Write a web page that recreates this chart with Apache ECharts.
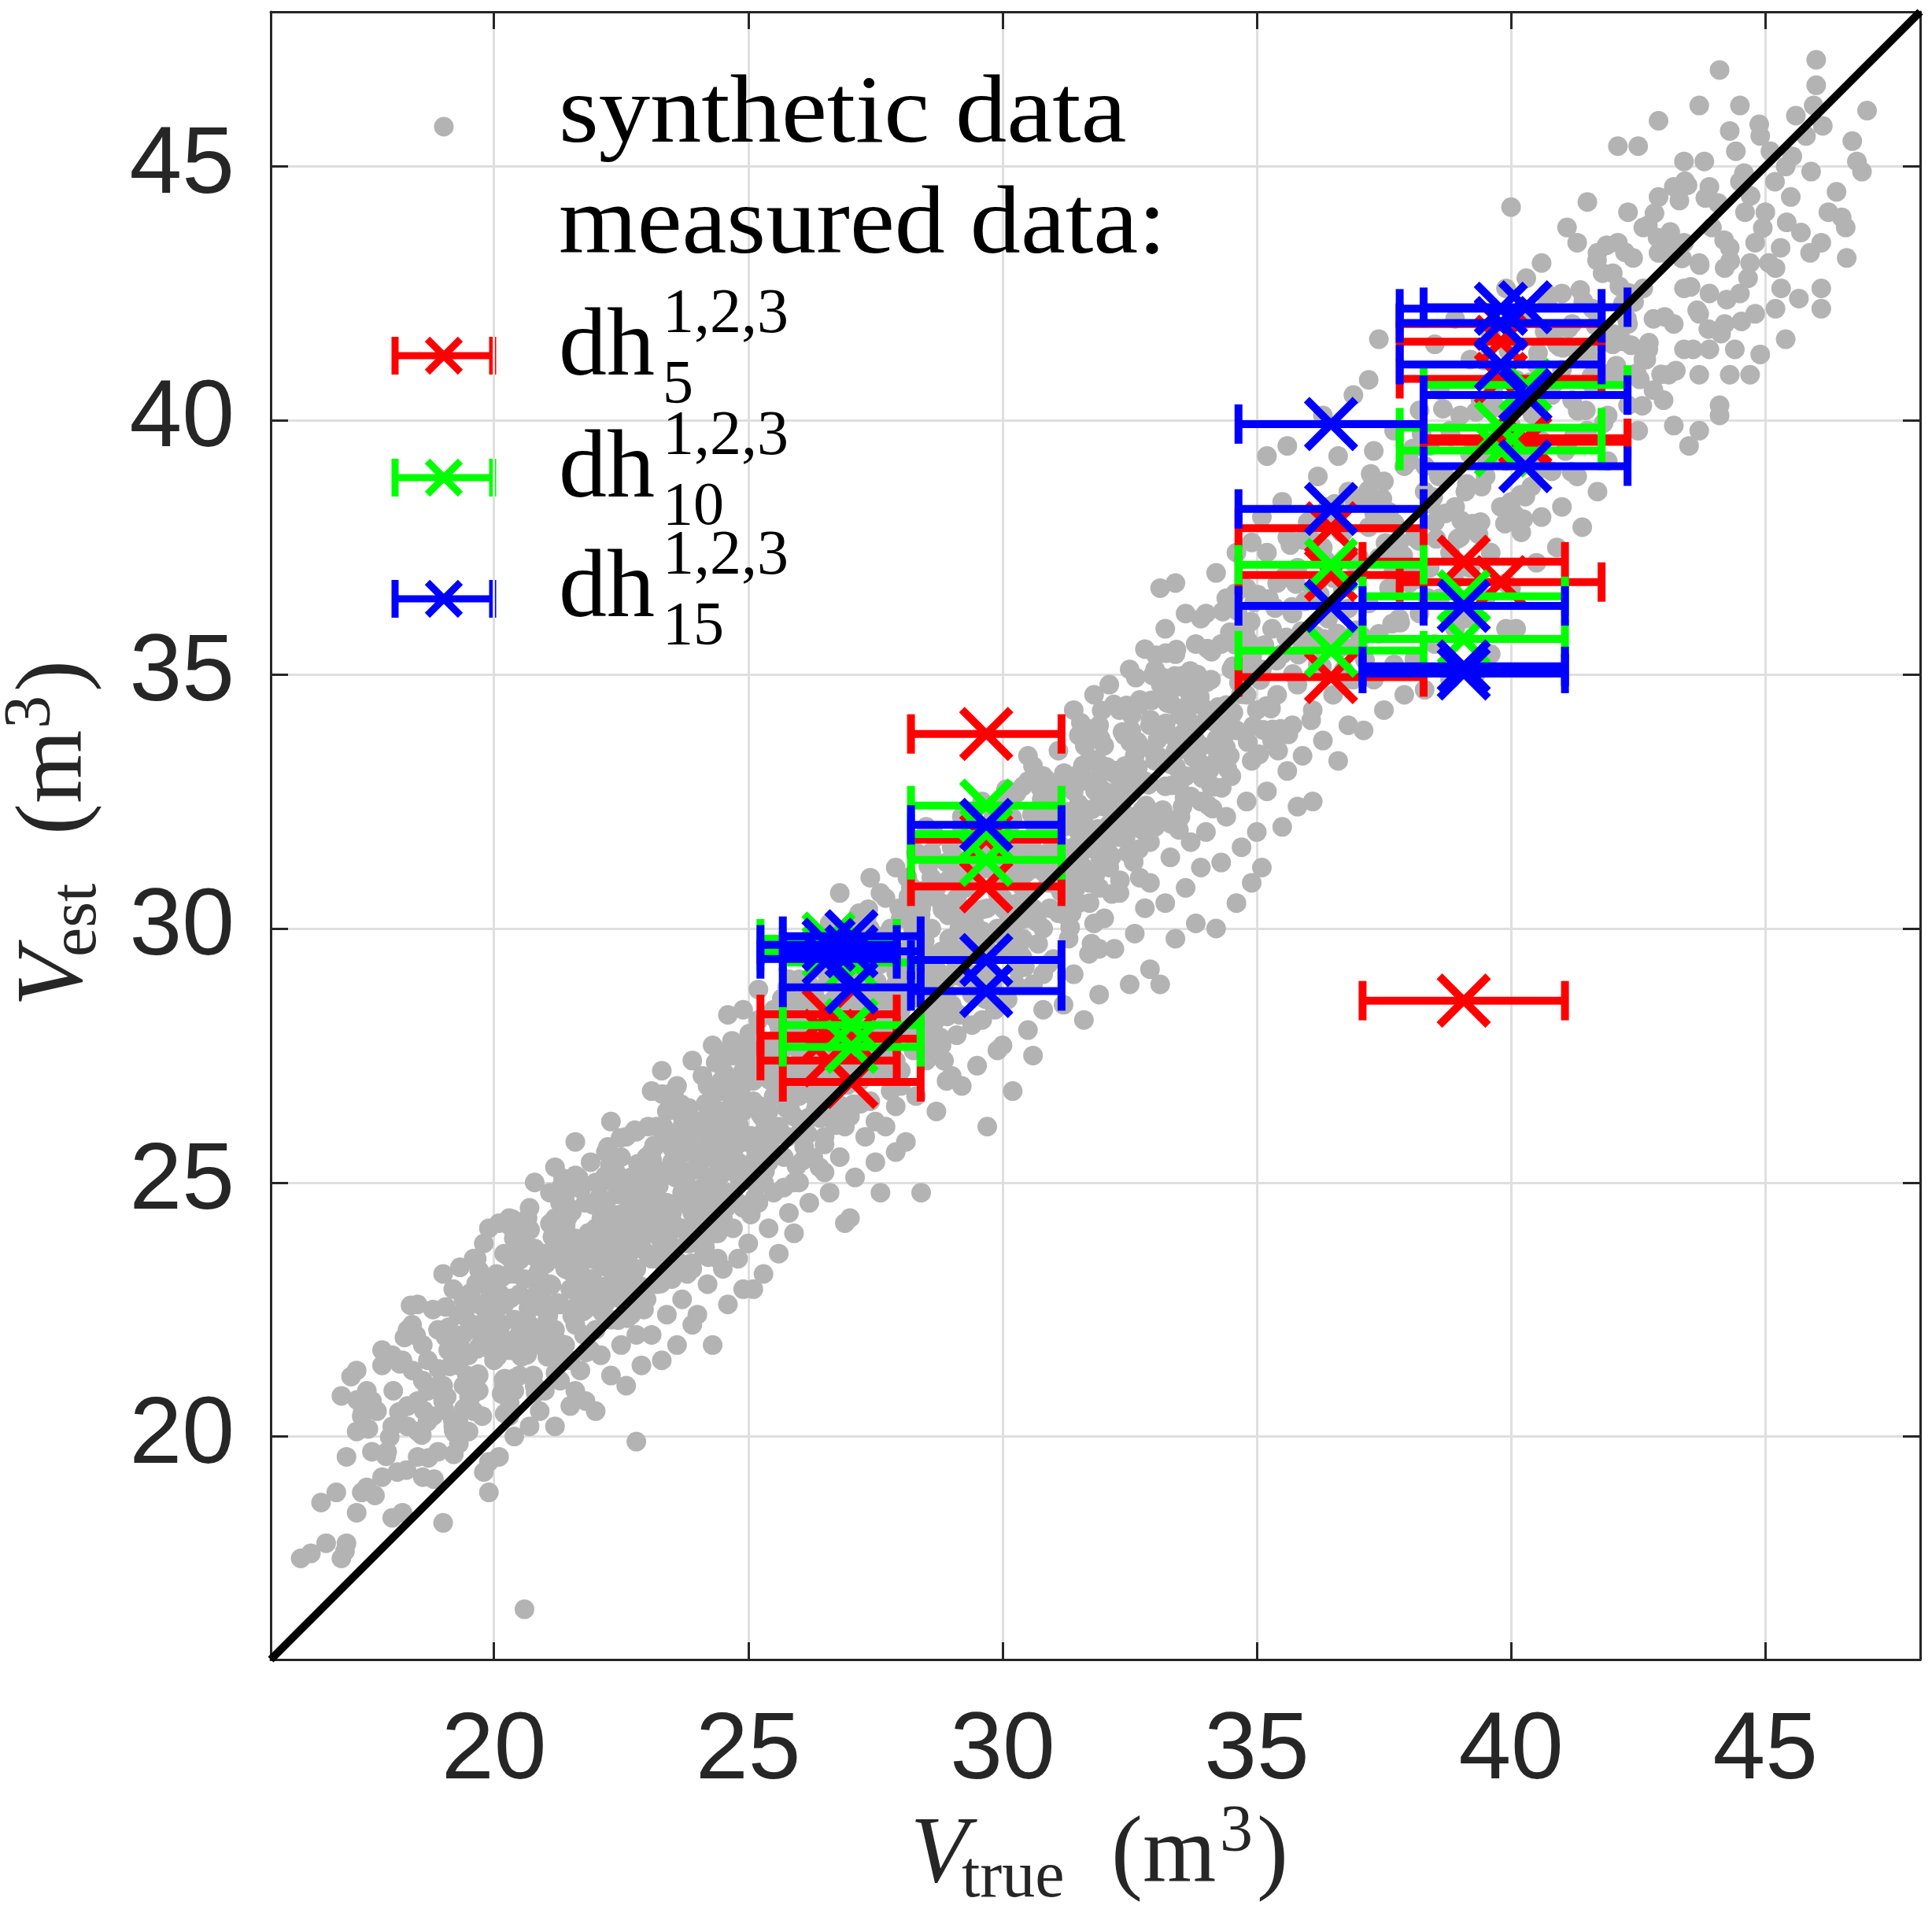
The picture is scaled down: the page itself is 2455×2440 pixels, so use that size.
<!DOCTYPE html>
<html>
<head>
<meta charset="utf-8">
<script src="https://cdn.jsdelivr.net/npm/echarts@6/dist/echarts.min.js"></script>
<style>
html,body{margin:0;padding:0;background:#ffffff;}
#chart{width:2455px;height:2440px;}
</style>
</head>
<body>
<div id="chart"></div>
<script>
// ---------- axis ----------
const axisMin = 15.61;
const axisMax = 48.045;
const tickValues = [20, 25, 30, 35, 40, 45];

// ---------- synthetic data (V_true, V_est) ----------
const syntheticOuter = [
[16.2,17.6],[16.4,17.7],[16.6,18.7],[16.7,17.9],[16.9,18.9],[17.0,20.8],
[17.0,17.6],[17.1,17.9],[17.3,18.5],[17.4,18.9],[17.5,19.0],[17.8,19.2],[17.1,19.6],[17.6,19.7],[17.9,19.7],[17.3,20.1],[17.4,20.4],[17.7,20.5],[17.5,20.9],[17.3,21.3],[17.8,21.4],[17.8,21.7],[17.6,20.7],
[18.0,21.6],[18.2,21.5],[18.0,20.2],[18.3,20.2],[18.5,20.1],[18.0,18.4],[18.2,18.5],[18.6,19.2],[18.9,19.7],[18.5,19.6],[18.3,20.6],[18.5,20.7],[18.8,20.4],[18.6,21.1],[18.4,21.3],[18.3,22.1],[18.6,21.8],[18.7,21.5],[18.5,22.6],[18.8,22.5],[18.9,22.1],[18.9,21.0],[18.7,20.9],[18.1,19.3],
[19.0,18.3],[19.2,20.2],[19.0,20.7],[19.0,21.0],[19.4,21.0],[19.3,20.3],[19.5,20.1],[19.6,20.5],[19.8,19.3],[19.9,19.5],[19.9,18.9],[19.7,20.9],[19.3,21.4],[19.2,21.9],[19.5,22.1],[19.7,22.6],[19.4,22.7],[19.0,23.2],[19.2,22.9],[19.8,23.1],[19.6,23.5],[19.8,23.8],[19.9,24.1],[19.5,21.6],[19.8,21.8],[19.3,22.4],[19.6,22.2],[19.9,22.9],[19.1,21.7],[19.7,21.2],
[20.6,16.6],[20.4,20.0],[20.1,19.6],[20.3,20.4],[20.7,20.2],[20.9,20.5],[20.2,21.0],[20.5,21.2],[20.8,21.0],[20.0,21.5],[20.3,21.7],[20.6,21.6],[20.9,21.8],[20.1,22.1],[20.4,22.3],[20.7,22.2],[20.2,22.6],[20.5,22.8],[20.8,22.6],[20.0,23.0],[20.3,23.2],[20.6,23.1],[20.9,23.3],[20.2,23.6],[20.5,23.8],[20.8,23.7],[20.1,24.2],[20.3,24.3],[20.7,24.5],[20.8,25.0],[20.4,20.9],[20.9,22.9],[20.6,24.0],[20.2,21.9],
[21.2,20.2],[21.5,20.6],[21.8,20.7],[21.0,20.9],[21.3,21.1],[21.7,21.3],[21.1,21.6],[21.4,21.8],[21.9,21.7],[21.2,22.1],[21.6,22.2],[21.0,22.5],[21.3,22.6],[21.8,22.5],[21.5,22.9],[21.1,23.0],[21.9,23.1],[21.4,23.3],[21.7,23.5],[21.0,23.6],[21.3,23.8],[21.6,23.9],[21.9,24.0],[21.2,24.3],[21.5,24.4],[21.8,24.6],[21.1,24.8],[21.4,25.0],[21.2,25.3],[21.6,25.8],[21.9,25.4],[21.7,24.9],[21.0,22.0],[21.5,21.5],[21.8,23.8],[21.3,24.6],[21.6,20.9],
[22.8,19.9],[22.0,20.5],[22.6,21.0],[22.3,21.2],[22.9,21.4],[22.1,21.6],[22.5,21.8],[22.8,22.0],[22.0,22.1],[22.3,22.3],[22.7,22.4],[22.2,22.7],[22.5,22.9],[22.9,22.8],[22.0,23.0],[22.4,23.2],[22.8,23.3],[22.1,23.5],[22.6,23.6],[22.3,23.9],[22.9,23.9],[22.0,24.1],[22.5,24.2],[22.8,24.5],[22.2,24.6],[22.6,24.8],[22.0,25.0],[22.4,25.2],[22.9,25.3],[22.2,25.6],[22.6,25.9],[22.3,26.2],[22.8,26.0],[22.7,23.0],[22.4,24.0],[22.1,22.9],[22.9,24.8],[22.5,25.5],
[23.3,21.5],[23.6,21.8],[23.1,22.0],[23.9,22.2],[23.4,22.4],[23.0,22.7],[23.7,22.7],[23.2,23.0],[23.5,23.1],[23.9,23.3],[23.1,23.5],[23.4,23.7],[23.8,23.8],[23.0,24.0],[23.6,24.1],[23.2,24.3],[23.9,24.4],[23.4,24.6],[23.7,24.8],[23.0,24.9],[23.3,25.1],[23.8,25.2],[23.5,25.4],[23.1,25.6],[23.9,25.7],[23.6,25.9],[23.2,26.1],[23.4,26.4],[23.8,26.4],[23.1,26.8],[23.6,26.9],[23.3,27.2],[23.9,27.4],[23.7,26.0],[23.5,24.4],[23.2,24.7],[23.8,23.2],[23.0,25.5],
[24.3,21.8],[24.0,22.4],[24.6,22.6],[24.9,22.9],[24.2,23.0],[24.5,23.3],[24.8,23.5],[24.1,23.8],[24.4,24.0],[24.7,24.1],[24.0,24.4],[24.3,24.6],[24.9,24.5],[24.6,24.8],[24.2,25.1],[24.5,25.2],[24.8,25.4],[24.0,25.5],[24.4,25.7],[24.7,25.9],[24.1,26.1],[24.6,26.2],[24.9,26.4],[24.3,26.5],[24.5,26.8],[24.8,27.0],[24.1,27.1],[24.4,27.4],[24.7,27.5],[24.3,27.7],[24.6,28.3],[24.9,28.4],[24.2,26.9],[24.5,24.3],[24.9,25.8],[24.1,24.9],[24.7,26.6],[24.4,23.5],
[25.1,22.9],[25.3,23.2],[25.6,23.6],[25.9,24.0],[25.0,23.8],[25.4,24.1],[25.8,24.4],[25.2,24.6],[25.5,24.8],[25.9,25.0],[25.1,25.2],[25.4,25.4],[25.7,25.5],[25.0,25.8],[25.3,26.0],[25.6,26.1],[25.9,26.3],[25.2,26.5],[25.5,26.7],[25.8,26.8],[25.1,27.0],[25.4,27.2],[25.7,27.3],[25.0,27.5],[25.3,27.7],[25.6,27.9],[25.9,28.0],[25.2,28.2],[25.5,28.4],[25.2,28.8],[25.8,28.6],[25.4,26.4],[25.7,24.9],[25.9,27.1],[25.5,25.9],[25.8,29.0],
[26.9,24.2],[26.2,24.6],[26.6,24.8],[26.0,25.0],[26.4,25.3],[26.8,25.5],[26.1,25.7],[26.5,25.9],[26.9,26.1],[26.3,26.3],[26.7,26.5],[26.0,26.7],[26.4,26.9],[26.8,27.0],[26.2,27.2],[26.6,27.4],[26.0,27.6],[26.4,27.8],[26.9,27.9],[26.1,28.1],[26.5,28.3],[26.8,28.5],[26.3,28.7],[26.7,28.9],[26.0,29.0],[26.4,29.3],[26.8,29.6],[26.2,29.8],[26.6,30.1],[26.8,30.7],[26.3,27.5],[26.7,26.8],[26.5,28.0],[26.1,26.2],[26.9,29.0],[26.5,25.2],
[27.0,24.3],[27.6,24.8],[27.1,25.1],[27.5,25.4],[27.9,25.6],[27.3,25.9],[27.7,26.1],[27.0,26.3],[27.4,26.6],[27.8,26.8],[27.2,27.0],[27.6,27.2],[27.9,27.4],[27.1,27.6],[27.5,27.8],[27.8,28.0],[27.3,28.2],[27.7,28.4],[27.0,28.6],[27.4,28.8],[27.9,28.9],[27.2,29.1],[27.6,29.3],[27.1,29.6],[27.5,29.8],[27.8,30.0],[27.3,30.3],[27.7,30.6],[27.4,31.0],[27.9,31.2],[27.6,28.1],[27.2,28.5],[27.8,29.5],[27.5,26.2],[27.0,27.3],[27.9,26.5],
[28.4,24.8],[28.1,25.8],[28.7,26.4],[28.3,26.7],[28.9,27.0],[28.0,27.2],[28.5,27.4],[28.8,27.7],[28.2,27.9],[28.6,28.1],[28.0,28.4],[28.4,28.6],[28.9,28.7],[28.3,28.9],[28.7,29.1],[28.1,29.3],[28.5,29.5],[28.9,29.6],[28.2,29.8],[28.6,30.0],[28.0,30.2],[28.4,30.4],[28.8,30.5],[28.2,30.8],[28.6,31.0],[28.9,31.3],[28.3,31.5],[28.7,31.8],[28.5,32.0],[28.1,28.0],[28.8,28.3],[28.4,29.9],[28.7,30.8],[28.0,26.9],
[29.7,26.1],[29.2,26.9],[29.5,27.3],[29.9,27.6],[29.1,27.9],[29.6,28.2],[29.0,28.5],[29.4,28.7],[29.8,28.9],[29.2,29.2],[29.7,29.4],[29.0,29.6],[29.5,29.8],[29.9,30.0],[29.3,30.2],[29.7,30.4],[29.1,30.6],[29.5,30.8],[29.9,31.0],[29.3,31.2],[29.7,31.4],[29.0,31.6],[29.4,31.8],[29.8,32.0],[29.2,32.2],[29.6,32.5],[29.5,29.1],[29.8,29.9],[29.2,30.4],[29.6,31.6],[29.0,27.1],[29.4,28.1],[29.9,30.7],[29.1,31.0],
[30.2,26.8],[30.0,27.7],[30.5,28.0],[30.8,28.4],[30.1,28.6],[30.6,28.9],[30.3,29.2],[30.9,29.3],[30.0,29.5],[30.4,29.8],[30.8,30.0],[30.2,30.2],[30.6,30.4],[30.0,30.6],[30.4,30.8],[30.9,30.9],[30.3,31.1],[30.7,31.3],[30.1,31.5],[30.5,31.7],[30.9,31.9],[30.2,32.1],[30.6,32.3],[30.0,32.5],[30.4,32.8],[30.8,33.0],[30.5,33.4],[30.7,29.7],[30.3,30.5],[30.9,31.5],[30.1,29.9],[30.6,27.5],[30.8,32.6],[30.4,31.4],
[31.6,28.2],[31.2,28.5],[31.9,28.7],[31.4,29.1],[31.0,29.4],[31.7,29.5],[31.3,29.8],[31.8,30.1],[31.1,30.3],[31.5,30.5],[31.9,30.8],[31.2,31.0],[31.6,31.2],[31.0,31.4],[31.4,31.6],[31.8,31.8],[31.2,32.0],[31.6,32.2],[31.0,32.4],[31.4,32.7],[31.9,32.8],[31.3,33.0],[31.7,33.3],[31.1,33.5],[31.5,33.8],[31.9,34.0],[31.4,34.3],[31.8,34.6],[31.7,30.9],[31.3,32.3],[31.9,29.6],[31.5,31.9],
[32.5,28.9],[32.9,29.2],[32.2,29.6],[32.6,29.9],[32.0,30.2],[32.8,30.4],[32.3,30.7],[32.7,31.0],[32.1,31.2],[32.5,31.5],[32.9,31.7],[32.2,32.0],[32.6,32.2],[32.0,32.4],[32.4,32.7],[32.8,32.9],[32.2,33.1],[32.6,33.4],[32.0,33.6],[32.4,33.8],[32.9,34.0],[32.3,34.3],[32.7,34.5],[32.1,34.8],[32.5,35.1],[32.8,35.5],[32.4,32.1],[32.7,33.6],[32.9,30.9],[32.3,31.8],
[33.1,28.9],[33.4,29.8],[33.8,30.1],[33.2,30.5],[33.6,30.8],[33.9,31.2],[33.3,31.4],[33.7,31.7],[33.0,32.0],[33.5,32.2],[33.9,32.5],[33.2,32.8],[33.6,33.0],[33.0,33.3],[33.4,33.5],[33.8,33.7],[33.1,33.9],[33.5,34.2],[33.9,34.4],[33.3,34.7],[33.7,34.9],[33.0,35.1],[33.4,35.4],[33.8,35.6],[33.2,35.9],[33.6,36.2],[33.1,36.7],[33.4,36.8],[33.9,36.1],[33.7,32.6],
[34.2,30.0],[34.6,30.5],[34.9,30.9],[34.3,31.3],[34.7,31.6],[34.0,31.9],[34.4,32.2],[34.8,32.5],[34.1,32.8],[34.5,33.0],[34.9,33.3],[34.2,33.6],[34.6,33.9],[34.0,34.1],[34.4,34.4],[34.8,34.6],[34.1,34.9],[34.5,35.1],[34.9,35.3],[34.3,35.6],[34.7,35.9],[34.0,36.2],[34.4,36.5],[34.8,36.7],[34.2,37.0],[34.6,37.4],[34.9,37.6],[34.5,34.0],
[35.1,31.2],[35.0,31.9],[35.5,32.0],[35.8,32.4],[35.2,32.7],[35.6,33.1],[35.9,33.4],[35.3,33.7],[35.7,34.0],[35.0,34.3],[35.4,34.6],[35.8,34.8],[35.1,35.1],[35.5,35.4],[35.9,35.6],[35.3,35.9],[35.7,36.2],[35.0,36.5],[35.4,36.8],[35.8,37.1],[35.2,37.4],[35.6,37.7],[35.1,38.1],[35.5,38.4],[35.2,39.3],[35.6,39.5],
[36.1,32.5],[36.6,33.3],[36.3,33.7],[36.8,34.0],[36.1,34.3],[36.5,34.6],[36.9,34.9],[36.2,35.2],[36.6,35.5],[36.0,35.8],[36.4,36.1],[36.8,36.3],[36.1,36.6],[36.5,36.9],[36.9,37.2],[36.3,37.5],[36.7,37.8],[36.0,38.0],[36.4,38.3],[36.8,38.6],[36.2,38.9],[36.6,39.3],[36.3,40.1],[36.9,40.5],
[37.1,33.9],[37.5,34.3],[37.9,34.6],[37.3,34.9],[37.7,35.2],[37.0,35.5],[37.4,35.8],[37.8,36.1],[37.2,36.4],[37.6,36.7],[37.0,37.0],[37.4,37.3],[37.8,37.6],[37.2,37.9],[37.6,38.2],[37.1,38.5],[37.5,38.8],[37.9,39.1],[37.3,39.4],[37.7,39.8],[37.2,40.8],[37.4,41.6],
[38.3,34.7],[38.8,34.9],[38.1,35.3],[38.5,35.6],[38.9,35.9],[38.2,36.2],[38.6,36.5],[38.0,36.8],[38.4,37.1],[38.8,37.4],[38.1,37.7],[38.5,38.0],[38.9,38.3],[38.3,38.6],[38.7,38.9],[38.0,39.2],[38.4,39.5],[38.8,39.8],[38.2,40.2],[38.6,40.6],[38.5,41.5],[38.9,42.0],
[39.3,35.0],[39.6,35.4],[39.9,35.9],[39.1,36.1],[39.5,36.5],[39.9,36.8],[39.2,37.1],[39.6,37.4],[39.0,37.7],[39.4,38.0],[39.8,38.3],[39.1,38.6],[39.5,38.9],[39.9,39.2],[39.3,39.5],[39.7,39.8],[39.0,40.1],[39.4,40.4],[39.8,40.8],[39.2,41.2],[39.6,41.7],[39.9,42.6],
[40.1,35.9],[40.0,36.7],[40.5,37.2],[40.9,37.5],[40.2,37.8],[40.6,38.1],[40.0,38.4],[40.4,38.7],[40.8,39.0],[40.2,39.3],[40.6,39.6],[40.0,39.9],[40.4,40.2],[40.8,40.5],[40.1,40.8],[40.5,41.1],[40.9,41.5],[40.3,42.0],[40.7,42.5],[40.3,42.8],[40.6,43.1],[40.0,44.2],
[41.4,37.9],[41.0,38.3],[41.7,38.6],[41.3,38.9],[41.9,39.2],[41.1,39.5],[41.5,39.8],[41.9,40.1],[41.2,40.4],[41.6,40.7],[41.0,41.0],[41.4,41.3],[41.8,41.6],[41.2,41.9],[41.6,42.2],[41.0,42.5],[41.8,42.9],[41.3,43.5],[41.7,43.3],[41.5,44.3],[41.1,43.8],
[42.5,39.8],[42.3,40.3],[42.8,40.6],[42.1,40.9],[42.6,41.2],[42.0,41.5],[42.3,41.9],[42.8,42.0],[42.2,42.3],[42.6,42.6],[42.0,42.9],[42.4,43.2],[42.9,43.3],[42.1,43.5],[42.6,43.8],[42.3,44.1],[42.9,44.4],[42.1,45.4],[42.5,45.4],[42.9,45.9],[42.7,41.4],
[43.5,39.5],[43.2,39.9],[43.7,39.8],[43.0,40.4],[43.7,40.9],[43.1,40.9],[43.4,41.4],[43.9,41.4],[43.2,41.9],[43.7,42.1],[43.4,42.6],[43.9,42.5],[43.0,43.3],[43.4,43.5],[43.7,43.1],[43.2,44.6],[43.8,45.1],[43.4,45.1],[43.7,46.2],[43.9,44.6],
[44.1,40.1],[44.1,40.3],[44.7,40.9],[44.3,40.9],[44.4,41.4],[44.9,41.3],[44.2,41.9],[44.8,42.1],[44.5,42.5],[44.2,43.0],[44.7,43.1],[44.3,43.4],[44.8,43.5],[44.6,44.1],[44.5,44.7],[44.3,45.7],[44.9,45.6],[44.1,46.9],[44.5,46.2],
[45.2,42.2],[45.4,41.6],[45.2,43.0],[45.3,43.4],[45.7,43.7],[45.0,44.1],[45.5,44.4],[45.9,44.9],[45.4,45.0],[45.8,45.6],[46.0,47.1],[46.0,46.6],[45.6,46.0],[45.1,45.3],
[46.1,42.6],[46.1,42.2],[46.5,44.0],[46.4,44.5],[46.1,43.5],[46.8,45.1],[47.0,46.1],[46.9,44.9],[46.6,43.2]
];
const syntheticCore = [
[17.07,17.74],[17.53,20.15],[17.31,20.72],[17.88,19.61],[17.19,21.18],[17.66,18.84],[17.42,20.50],[17.95,19.99],
[18.24,21.95],[18.71,19.58],[18.13,20.48],[18.58,20.03],[18.36,22.58],[18.82,19.16],[18.02,20.90],[18.47,21.99],[18.69,20.29],[18.28,19.34],[18.91,21.33],[18.15,21.43],[18.62,20.51],[18.39,22.20],
[19.77,20.40],[19.05,21.96],[19.54,20.77],[19.33,23.33],[19.86,22.41],[19.21,19.65],[19.68,21.73],[19.44,22.69],[19.07,20.78],[19.53,22.82],[19.31,19.86],[19.88,22.36],[19.19,20.32],[19.66,23.50],[19.42,22.40],[19.95,21.89],[19.24,20.06],[19.71,23.27],[19.13,21.38],[19.58,20.93],
[20.36,24.28],[20.82,20.86],[20.02,22.60],[20.47,23.69],[20.69,21.99],[20.28,21.04],[20.91,23.03],[20.15,23.13],[20.62,22.21],[20.39,23.90],[20.77,21.20],[20.05,22.76],[20.54,21.57],[20.33,24.13],[20.86,23.21],[20.21,20.45],[20.68,22.53],[20.44,23.49],[20.07,21.58],[20.53,23.62],[20.31,20.66],[20.88,23.16],[20.19,21.12],[20.66,24.30],[20.42,23.20],[20.95,22.69],[20.24,20.86],[20.71,24.07],[20.13,22.18],[20.58,21.73],
[21.36,25.08],[21.82,21.66],[21.02,23.40],[21.47,24.49],[21.69,22.79],[21.28,21.84],[21.91,23.83],[21.15,23.93],[21.62,23.01],[21.39,24.70],[21.77,22.00],[21.05,23.56],[21.54,22.37],[21.33,24.93],[21.86,24.01],[21.21,21.25],[21.68,23.33],[21.44,24.29],[21.07,22.38],[21.53,24.42],[21.31,21.46],[21.88,23.96],[21.19,21.92],[21.66,25.10],[21.42,24.00],[21.95,23.49],[21.24,21.66],[21.71,24.87],[21.13,22.98],[21.58,22.53],[21.36,23.42],[21.80,23.02],[21.10,24.19],[21.50,23.25],[21.25,22.63],[21.95,24.56],[21.60,25.14],[21.05,21.65],
[22.07,24.71],[22.53,23.26],[22.31,24.05],[22.88,22.96],[22.19,25.13],[22.66,24.13],[22.42,24.77],[22.95,22.50],[22.24,25.70],[22.71,23.66],[22.13,22.45],[22.58,24.75],[22.36,25.13],[22.82,24.13],[22.02,22.63],[22.47,24.37],[22.69,22.67],[22.28,25.34],[22.91,23.71],[22.15,24.66],[22.62,22.33],[22.39,23.51],[22.77,26.03],[22.05,23.73],[22.54,23.00],[22.33,25.52],[22.86,24.00],[22.21,22.65],[22.68,24.69],[22.44,22.29],[22.12,23.35],[22.97,25.02],[22.60,23.95],[22.27,24.32],[22.83,22.85],[22.49,25.88],[22.74,24.40],[22.08,24.10],[22.40,23.05],[22.93,24.28],
[23.07,24.62],[23.53,24.19],[23.31,26.74],[23.88,23.41],[23.19,25.25],[23.66,26.36],[23.42,24.25],[23.95,24.15],[23.24,24.93],[23.71,26.13],[23.13,24.27],[23.58,26.57],[23.36,23.33],[23.82,25.95],[23.02,23.60],[23.47,26.75],[23.69,25.56],[23.28,23.01],[23.91,25.24],[23.15,25.73],[23.62,23.44],[23.39,25.22],[23.77,26.33],[23.05,24.07],[23.54,26.70],[23.33,23.75],[23.86,26.09],[23.21,24.52],[23.68,26.54],[23.44,23.54],[23.11,25.45],[23.92,24.71],[23.50,25.68],[23.26,23.90],[23.79,24.95],[23.03,26.10],[23.63,24.58],[23.37,25.90],[23.85,23.80],[23.57,25.10],
[24.07,24.09],[24.53,26.41],[24.31,26.79],[24.88,25.88],[24.19,24.48],[24.66,26.24],[24.42,24.13],[24.95,27.65],[24.24,24.81],[24.71,26.86],[24.13,23.59],[24.58,25.38],[24.36,27.36],[24.82,26.12],[24.02,24.23],[24.47,27.34],[24.69,25.55],[24.28,24.41],[24.91,26.60],[24.15,23.73],[24.62,26.91],[24.39,24.83],[24.77,26.16],[24.05,23.92],[24.54,27.15],[24.33,25.54],[24.86,26.86],[24.21,23.53],[24.68,27.79],[24.44,25.12],[24.10,25.70],[24.97,25.05],[24.50,26.00],[24.26,26.25],[24.80,24.60],[24.60,27.60],[24.34,24.00],[24.90,27.20],[24.16,26.55],[24.73,25.25],
[25.07,25.91],[25.53,28.23],[25.31,24.99],[25.88,27.70],[25.19,25.45],[25.66,28.62],[25.42,27.02],[25.95,25.32],[25.24,26.34],[25.71,27.93],[25.13,24.70],[25.58,27.09],[25.36,27.66],[25.82,26.46],[25.02,27.93],[25.47,25.57],[25.69,27.64],[25.28,26.28],[25.91,28.45],[25.15,24.98],[25.62,26.82],[25.39,25.76],[25.77,28.85],[25.05,24.37],[25.54,27.27],[25.33,27.77],[25.86,26.34],[25.21,25.18],[25.68,27.02],[25.44,27.59],[25.10,26.60],[25.96,27.25],[25.48,26.10],[25.25,27.30],[25.78,25.90],[25.60,28.10],[25.35,25.35],[25.85,28.00],[25.17,27.85],[25.73,26.70],
[26.07,25.43],[26.53,27.24],[26.31,29.22],[26.88,28.07],[26.19,26.28],[26.66,29.41],[26.42,27.21],[26.95,26.92],[26.24,27.90],[26.71,26.13],[26.13,28.37],[26.58,26.90],[26.36,27.69],[26.82,26.51],[26.02,28.58],[26.47,27.56],[26.69,28.61],[26.28,25.49],[26.91,29.90],[26.15,26.76],[26.62,26.49],[26.39,28.18],[26.77,29.10],[26.05,27.04],[26.54,26.70],[26.33,27.85],[26.86,26.42],[26.21,28.88],[26.68,27.10],[26.44,28.52],[26.10,27.55],[26.93,28.40],[26.50,25.75],[26.26,28.10],[26.79,27.60],[26.60,29.75],[26.35,26.55],[26.88,29.20],[26.17,25.95],[26.72,27.85],
[27.07,26.54],[27.53,28.95],[27.31,29.52],[27.88,28.41],[27.19,29.98],[27.66,27.64],[27.42,29.30],[27.95,28.79],[27.24,29.75],[27.71,27.38],[27.13,28.28],[27.58,27.83],[27.36,30.38],[27.82,26.96],[27.02,28.70],[27.47,29.79],[27.69,28.09],[27.28,27.14],[27.91,29.13],[27.15,29.23],[27.62,28.31],[27.39,30.00],[27.77,27.30],[27.05,28.86],[27.54,27.67],[27.33,30.23],[27.86,29.31],[27.21,26.55],[27.68,28.63],[27.44,29.59],[27.10,27.95],[27.97,30.40],[27.49,28.45],[27.26,29.00],[27.80,28.00],[27.60,30.70],[27.35,27.55],[27.90,27.10],[27.18,30.30],[27.73,29.85],
[28.07,29.54],[28.53,27.77],[28.31,30.33],[28.88,28.97],[28.19,29.34],[28.66,28.16],[28.42,30.74],[28.95,29.80],[28.24,30.01],[28.71,27.68],[28.13,31.00],[28.58,28.94],[28.36,28.05],[28.82,30.37],[28.02,30.23],[28.47,29.21],[28.69,28.63],[28.28,29.60],[28.91,28.27],[28.15,30.63],[28.62,28.85],[28.39,30.27],[28.77,27.86],[28.05,28.61],[28.54,31.23],[28.33,29.38],[28.86,28.68],[28.21,30.81],[28.68,29.24],[28.44,28.26],[28.10,28.85],[28.93,30.95],[28.50,30.00],[28.25,27.60],[28.80,29.55],[28.60,31.50],[28.38,29.90],[28.85,27.40],
[29.07,31.39],[29.53,29.02],[29.31,30.24],[29.88,29.90],[29.19,32.03],[29.66,28.61],[29.42,30.86],[29.95,32.03],[29.24,29.49],[29.71,29.33],[29.13,30.23],[29.58,31.41],[29.36,29.87],[29.82,32.19],[29.02,28.43],[29.47,31.03],[29.69,29.60],[29.28,31.98],[29.91,31.16],[29.15,28.30],[29.62,30.38],[29.39,31.34],[29.77,28.97],[29.05,30.32],[29.54,31.53],[29.33,29.72],[29.86,32.38],[29.21,29.04],[29.68,31.33],[29.44,30.13],[29.10,29.30],[29.93,30.60],[29.50,28.80],[29.26,30.80],[29.80,31.80],[29.60,29.95],[29.35,31.70],[29.85,28.40],
[30.07,32.74],[30.53,30.70],[30.31,29.81],[30.88,32.22],[30.19,32.18],[30.66,31.18],[30.42,30.19],[30.95,32.01],[30.24,29.47],[30.71,32.93],[30.13,30.21],[30.58,32.24],[30.36,29.29],[30.82,31.10],[30.02,32.56],[30.47,31.30],[30.69,30.33],[30.28,32.67],[30.91,31.25],[30.15,29.80],[30.62,31.84],[30.39,29.44],[30.77,32.54],[30.05,30.03],[30.54,31.46],[30.33,29.67],[30.86,32.93],[30.21,30.93],[30.68,32.20],[30.44,29.24],[30.10,31.60],[30.93,30.40],[30.50,32.90],[30.26,28.90],[30.80,29.10],[30.60,33.20],
[31.07,31.87],[31.53,33.07],[31.31,31.53],[31.88,33.94],[31.19,30.28],[31.66,32.90],[31.42,31.06],[31.95,34.29],[31.24,32.26],[31.71,30.50],[31.13,31.64],[31.58,33.21],[31.36,30.30],[31.82,32.71],[31.02,32.76],[31.47,31.54],[31.69,33.93],[31.28,30.80],[31.91,33.24],[31.15,31.57],[31.62,33.59],[31.39,30.59],[31.77,32.35],[31.05,30.86],[31.54,34.05],[31.33,30.02],[31.86,32.95],[31.21,33.06],[31.68,31.58],[31.44,30.79],[31.10,32.20],[31.92,31.40],[31.50,32.45],[31.75,29.70],
[32.07,31.85],[32.53,33.90],[32.31,30.95],[32.88,32.85],[32.19,34.41],[32.66,33.17],[32.42,31.79],[32.95,34.98],[32.24,32.35],[32.71,32.00],[32.13,33.10],[32.58,31.31],[32.36,33.87],[32.82,32.42],[32.02,32.69],[32.47,31.49],[32.69,34.48],[32.28,32.69],[32.91,34.11],[32.15,30.68],[32.62,34.94],[32.39,32.27],[32.77,31.92],[32.05,33.18],[32.54,34.20],[32.33,32.59],[32.86,32.28],[32.21,33.04],[32.68,31.56],[32.44,34.39],[32.10,32.05],[32.95,33.50],
[33.07,33.38],[33.53,34.97],[33.31,32.06],[33.88,34.56],[33.19,34.71],[33.66,33.51],[33.42,35.49],[33.95,33.21],[33.24,34.44],[33.71,33.87],[33.13,34.95],[33.58,32.56],[33.36,33.78],[33.82,33.35],[33.02,35.38],[33.47,31.94],[33.69,34.60],[33.28,34.92],[33.91,33.59],[33.15,32.33],[33.62,34.17],[33.39,34.74],[33.77,33.74],[33.05,35.00],[33.54,32.40],[33.33,34.41],[33.86,33.25],[33.21,35.42],[33.68,34.45],[33.44,32.06],
[34.07,33.12],[34.53,35.16],[34.31,32.77],[34.88,36.04],[34.19,33.55],[34.66,34.96],[34.42,33.15],[34.95,36.42],[34.24,34.36],[34.71,35.63],[34.13,32.36],[34.58,36.60],[34.36,33.94],[34.82,33.67],[34.02,34.85],[34.47,35.83],[34.69,34.61],[34.28,33.46],[34.91,35.37],[34.15,32.79],[34.62,36.25],[34.39,33.84],[34.77,35.81],[34.05,32.42],[34.54,34.25],[34.33,36.24],[34.86,35.05],[34.21,33.30],
[35.07,34.89],[35.53,36.91],[35.31,33.92],[35.88,35.85],[35.19,34.38],[35.66,37.55],[35.42,33.50],[35.95,36.44],[35.24,36.49],[35.71,35.01],[35.13,33.91],[35.58,35.73],[35.36,36.31],[35.82,35.39],[35.02,36.57],[35.47,33.93],[35.69,36.33],[35.28,34.33],[35.91,37.65],[35.15,35.58],[35.62,33.82],[35.39,35.27],[35.77,36.78],[35.05,33.43],
[36.07,34.10],[36.53,38.36],[36.31,35.70],[36.88,35.52],[36.19,36.80],[36.66,37.80],[36.42,36.17],[36.95,35.87],[36.24,36.57],[36.71,35.09],[36.13,37.61],[36.58,35.81],[36.36,37.24],[36.82,34.91],[36.02,35.58],[36.47,38.16],[36.69,36.70],[36.28,35.16],[36.91,38.44],[36.15,35.77],
[37.07,35.75],[37.53,37.59],[37.31,38.17],[37.88,37.34],[37.19,38.62],[37.66,36.00],[37.42,37.99],[37.95,36.84],[37.24,38.95],[37.71,37.98],[37.13,35.28],[37.58,37.34],[37.36,38.31],[37.82,36.02],[37.02,37.29],[37.47,38.46],[37.69,37.04],[37.28,38.86],
[38.07,39.45],[38.53,37.67],[38.31,39.10],[38.88,36.86],[38.19,37.63],[38.66,40.23],[38.42,38.36],[38.95,37.67],[38.24,39.74],[38.71,38.17],[38.13,36.88],[38.58,38.90],[38.36,36.51],[38.82,39.69],[38.02,37.10],[38.47,38.49],
[39.07,37.12],[39.53,39.20],[39.31,40.17],[39.88,37.97],[39.19,39.34],[39.66,40.53],[39.42,38.70],[39.95,41.37],[39.24,37.97],[39.71,40.26],[39.13,38.75],[39.58,40.75],[39.36,37.76],[39.82,39.60],[39.02,38.03],[39.47,41.18],
[40.07,38.15],[40.53,41.33],[40.31,39.26],[40.88,40.76],[40.19,38.54],[40.66,41.75],[40.42,40.12],[40.95,41.45],[40.24,38.06],[40.71,42.32],[40.13,39.34],[40.58,39.05],[40.36,40.75],[40.82,41.75],[40.02,39.61],[40.47,39.23],[40.69,40.77],[40.28,38.50],
[41.07,39.40],[41.53,41.24],[41.31,40.19],[41.88,43.45],[41.19,38.99],[41.66,41.87],[41.42,42.35],[41.95,40.93],[41.24,39.71],[41.71,41.55],[41.13,41.81],[41.58,40.87],[41.36,42.57],[41.82,39.95],[41.02,41.43],[41.47,40.20],[41.69,43.15],[41.28,41.39],
[42.07,41.08],[42.53,40.81],[42.31,42.51],[42.88,43.60],[42.19,41.56],[42.66,41.20],[42.42,42.33],[42.95,40.91],[42.24,43.31],[42.71,41.53],[42.13,42.64],[42.58,40.29],[42.36,41.48],[42.82,44.08],[42.02,41.70],[42.47,40.93],[42.69,43.84],[42.28,42.00],
[43.07,43.55],[43.53,42.63],[43.31,44.33],[43.88,41.80],[43.19,43.38],[43.66,42.17],[43.42,44.71],[43.95,43.80],[43.24,40.98],[43.71,43.06],[43.13,43.71],[43.58,41.40],[43.36,43.19],[43.82,44.38],[43.02,42.04],[43.47,44.63],
[44.07,44.28],[44.53,41.95],[44.31,43.14],[44.88,45.83],[44.19,43.55],[44.66,42.80],[44.42,45.30],[44.95,43.79],[44.24,42.38],[44.71,44.42],[44.13,41.71],[44.58,44.87],
[45.07,43.10],[45.53,45.20],[45.31,42.60],[45.88,43.30],[45.19,44.70],[45.66,42.40],[45.42,43.90],[45.95,46.20],
[46.24,44.10],[46.71,45.50],[46.13,45.80],[46.58,43.80]
];
const syntheticDense = [
[19.11,22.15],[19.47,21.20],[19.83,22.07],[19.29,20.31],[19.65,23.01],[19.03,20.52],[19.39,22.00],[19.75,21.83],[19.21,20.11],[19.57,22.69],[19.93,21.71],[19.15,22.05],[19.51,20.78],[19.87,23.03],[19.33,21.77],[19.69,21.23],[19.05,22.55],[19.41,20.55],
[20.11,22.81],[20.47,21.97],[20.83,22.80],[20.29,23.54],[20.65,21.61],[20.03,22.36],[20.39,21.69],[20.75,23.56],[20.21,21.14],[20.57,22.24],[20.93,23.43],[20.15,20.84],[20.51,23.48],[20.87,21.93],[20.33,22.72],[20.69,22.50],[20.05,23.20],[20.41,21.15],
[21.11,22.57],[21.47,23.88],[21.83,22.67],[21.29,24.11],[21.65,23.66],[21.03,22.24],[21.39,24.45],[21.75,22.46],[21.21,23.84],[21.57,22.89],[21.93,23.76],[21.15,21.79],[21.51,24.48],[21.87,22.87],[21.33,23.55],[21.69,23.37],[21.05,21.57],[21.41,24.15],
[22.11,24.29],[22.47,22.72],[22.83,25.37],[22.29,23.01],[22.65,24.61],[22.03,23.51],[22.39,25.10],[22.75,23.06],[22.21,24.50],[22.57,23.66],[22.93,24.49],[22.15,25.02],[22.51,23.08],[22.87,24.71],[22.33,23.24],[22.69,25.10],[22.05,22.60],[22.41,23.70],
[23.11,24.72],[23.47,23.77],[23.83,26.47],[23.29,24.05],[23.65,25.54],[23.03,24.48],[23.39,23.57],[23.75,26.16],[23.21,24.36],[23.57,25.67],[23.93,24.46],[23.15,25.69],[23.51,25.23],[23.87,24.69],[23.33,26.10],[23.69,24.10],[23.05,25.40],[23.41,24.45],
[24.11,25.45],[24.47,27.00],[24.83,25.07],[24.29,25.89],[24.65,25.23],[24.03,26.21],[24.39,24.60],[24.75,25.71],[24.21,26.08],[24.57,24.51],[24.93,27.16],[24.15,24.59],[24.51,26.18],[24.87,25.96],[24.33,26.75],[24.69,24.70],[24.05,26.06],[24.41,25.22],
[25.11,25.42],[25.47,27.67],[25.83,27.22],[25.29,25.87],[25.65,28.09],[25.03,25.21],[25.39,27.40],[25.75,26.46],[25.21,26.51],[25.57,25.56],[25.93,28.26],[25.15,25.63],[25.51,27.11],[25.87,26.93],[25.33,25.22],[25.69,27.80],[25.05,25.92],[25.41,27.23],
[26.11,28.32],[26.47,26.77],[26.83,28.37],[26.29,27.34],[26.65,28.94],[26.03,26.01],[26.39,28.26],[26.75,27.43],[26.21,27.44],[26.57,28.99],[26.93,27.06],[26.15,27.67],[26.51,27.00],[26.87,28.86],[26.33,26.45],[26.69,27.55],[26.05,27.84],[26.41,26.27],
[27.11,29.42],[27.47,27.81],[27.83,29.30],[27.29,28.31],[27.65,27.41],[27.03,29.11],[27.39,28.12],[27.75,29.44],[27.21,27.41],[27.57,29.66],[27.93,29.21],[27.15,27.65],[27.51,29.86],[27.87,27.86],[27.33,29.25],[27.69,28.30],[27.05,28.27],[27.41,27.32],
[28.11,28.12],[28.47,29.75],[28.83,29.09],[28.29,30.14],[28.65,28.54],[28.03,28.76],[28.39,29.94],[28.75,28.38],[28.21,30.21],[28.57,28.66],[28.93,30.26],[28.15,29.02],[28.51,30.61],[28.87,28.56],[28.33,30.01],[28.69,29.17],[28.05,29.10],[28.41,30.65],
[29.11,30.27],[29.47,29.73],[29.83,31.95],[29.29,29.14],[29.65,31.34],[29.03,29.51],[29.39,30.37],[29.75,29.43],[29.21,31.31],[29.57,29.70],[29.93,31.19],[29.15,29.99],[29.51,29.08],[29.87,31.66],[29.33,29.85],[29.69,31.18],[29.05,29.07],[29.41,31.32],
[30.11,31.32],[30.47,31.10],[30.83,32.70],[30.29,29.84],[30.65,32.10],[30.03,30.38],[30.39,31.20],[30.75,32.76],[30.21,30.01],[30.57,31.64],[30.93,30.98],[30.15,31.82],[30.51,30.21],[30.87,31.31],[30.33,31.69],[30.69,30.12],[30.05,31.87],[30.41,30.32],
[31.11,32.15],[31.47,31.97],[31.83,31.07],[31.29,32.84],[31.65,31.86],[31.03,32.29],[31.39,31.07],[31.75,33.33],[31.21,32.06],[31.57,31.52],[31.93,33.74],[31.15,30.72],[31.51,32.91],[31.87,31.96],[31.33,32.02],[31.69,31.07],[31.05,32.87],[31.41,31.26],
[32.11,31.94],[32.47,33.80],[32.83,32.20],[32.29,32.49],[32.65,33.68],[32.03,31.23],[32.39,33.87],[32.75,32.33],[32.21,33.11],[32.57,32.89],[32.93,34.49],[32.15,31.42],[32.51,33.67],[32.87,32.83],[32.33,32.85],[32.69,34.40],[32.05,31.57],[32.41,33.20],
[33.11,34.80],[33.47,32.80],[33.83,35.00],[33.29,33.24],[33.65,34.11],[33.03,32.28],[33.39,34.97],[33.75,33.37],[33.21,34.04],[33.57,33.86],[33.93,32.96],[33.15,34.52],[33.51,33.53],[33.87,34.84],[33.33,32.82],[33.69,35.07],[33.05,33.72],[33.41,33.18],
[34.11,35.45],[34.47,33.40],[34.83,35.66],[34.29,34.01],[34.65,34.84],[34.03,35.51],[34.39,33.57],[34.75,35.21],[34.21,33.73],[34.57,35.59],[34.93,33.99],[34.15,34.07]
];

// ---------- measured data ----------
// true volume of each measured pile and the ends of its horizontal error bar
const trueV  = [26.58, 27.03, 29.68, 36.46, 39.07, 39.80, 40.28];
const trueLo = [25.24, 25.68, 28.20, 34.64, 37.08, 37.81, 38.28];
const trueHi = [27.92, 28.39, 31.16, 38.28, 41.06, 41.78, 42.29];
// estimated volumes per pile (flights 1,2,3)
const estDh5  = [[28.31,27.89,27.40],[27.83,26.98],[33.83,31.75,30.83],[37.88,36.96,34.95],[37.22,28.58],[41.90,41.55,40.82,36.82],[39.58,39.65]];
const estDh10 = [[29.80,29.55],[29.33,28.10,27.67],[32.42,31.86,31.35],[37.16,35.47],[36.54,35.70],[39.86,39.41],[40.70]];
const estDh15 = [[29.68,29.40],[29.85,29.55,28.84],[32.04,29.38,28.77],[39.93,38.26,36.35],[36.35,35.16,35.02],[42.20,41.92,41.10],[42.23,40.50,39.10]];

const seriesNames = ['dh5', 'dh10', 'dh15'];
const seriesColors = ['#ff0000', '#00ff00', '#0000ff'];

function buildErr(est) {
  const out = [];
  est.forEach((ys, g) => ys.forEach(y => out.push([trueV[g], trueLo[g], trueHi[g], y])));
  return out;
}

function renderErr(params, api) {
  const x = api.value(0), lo = api.value(1), hi = api.value(2), y = api.value(3);
  const c = api.coord([x, y]);
  const l = api.coord([lo, y]);
  const h = api.coord([hi, y]);
  const color = api.visual('color');
  const st = { stroke: color, lineWidth: 10, fill: null };
  const cap = 25, m = 31;
  return {
    type: 'group',
    children: [
      { type: 'line', shape: { x1: l[0], y1: l[1], x2: h[0], y2: h[1] }, style: st },
      { type: 'line', shape: { x1: l[0], y1: l[1] - cap, x2: l[0], y2: l[1] + cap }, style: st },
      { type: 'line', shape: { x1: h[0], y1: h[1] - cap, x2: h[0], y2: h[1] + cap }, style: st },
      { type: 'line', shape: { x1: c[0] - m, y1: c[1] - m, x2: c[0] + m, y2: c[1] + m }, style: st },
      { type: 'line', shape: { x1: c[0] - m, y1: c[1] + m, x2: c[0] + m, y2: c[1] - m }, style: st }
    ]
  };
}

const ests = [estDh5, estDh10, estDh15];
const errSeries = ests.map((e, i) => ({
  name: seriesNames[i],
  type: 'custom',
  renderItem: renderErr,
  data: buildErr(e),
  encode: { x: [0, 1, 2], y: 3 },
  itemStyle: { color: seriesColors[i] },
  clip: true,
  z: 3 + i,
  silent: true
}));

// ---------- text helpers (legend and axis titles) ----------
const SERIF = 'Liberation Serif';
function txt(x, base, s, size, opt) {
  opt = opt || {};
  const el = {
    type: 'text', x: x, y: base - 0.3375 * size, z: 100,
    style: {
      text: s, fontSize: size, fontFamily: SERIF, fontStyle: opt.italic ? 'italic' : 'normal',
      fill: opt.color || '#000000', align: 'left', verticalAlign: 'middle',
      textAlign: 'left', textVerticalAlign: 'middle'
    }
  };
  if (opt.scaleX) { el.scaleX = opt.scaleX; el.originX = 0; el.originY = 0; }
  return el;
}
function legendIcon(cy, color) {
  const st = { stroke: color, lineWidth: 9 };
  const x1 = 502, x2 = 626, cx = 564, cap = 24, m = 21;
  return {
    type: 'group', z: 100,
    children: [
      { type: 'line', shape: { x1: x1, y1: cy, x2: x2, y2: cy }, style: st },
      { type: 'line', shape: { x1: x1, y1: cy - cap, x2: x1, y2: cy + cap }, style: st },
      { type: 'line', shape: { x1: x2, y1: cy - cap, x2: x2, y2: cy + cap }, style: st },
      { type: 'line', shape: { x1: cx - m, y1: cy - m, x2: cx + m, y2: cy + m }, style: st },
      { type: 'line', shape: { x1: cx - m, y1: cy + m, x2: cx + m, y2: cy - m }, style: st }
    ]
  };
}

const legendRows = [
  { cy: 452, base: 485, sup: 428, sub: 517, subText: '5' },
  { cy: 607, base: 640, sup: 583, sub: 672, subText: '10' },
  { cy: 761, base: 792, sup: 735, sub: 824, subText: '15' }
];

const graphics = [];
graphics.push({ type: 'circle', z: 100, shape: { cx: 564, cy: 161, r: 12.5 }, style: { fill: '#b3b3b3' } });
graphics.push(txt(710, 189, 'synthetic data', 122, { scaleX: 1.07 }));
graphics.push(txt(710, 330, 'measured data:', 122, { scaleX: 1.05 }));
legendRows.forEach((r, i) => {
  graphics.push(legendIcon(r.cy, seriesColors[i]));
  graphics.push(txt(710, r.base, 'dh', 122));
  graphics.push(txt(842, r.sup, '1,2,3', 80));
  graphics.push(txt(842, r.sub, r.subText, 78));
});

// x-axis title: V_true (m^3)
const AX = '#262626';
graphics.push({
  type: 'group', x: 1157, y: 2400, z: 100,
  children: [
    txt(0, 0, 'V', 120, { italic: true, color: AX }),
    txt(65, 16, 'true', 84, { color: AX }),
    txt(255, 0, '(m', 120, { color: AX }),
    txt(393, -42, '3', 84, { color: AX }),
    txt(440, 0, ')', 120, { color: AX })
  ]
});
// y-axis title: V_est (m^3), rotated
graphics.push({
  type: 'group', x: 112, y: 1279, rotation: Math.PI / 2, z: 100,
  children: [
    txt(0, 0, 'V', 120, { italic: true, color: AX }),
    txt(63, 15, 'est', 84, { color: AX }),
    txt(218, 0, '(m', 120, { color: AX }),
    txt(353, -43, '3', 84, { color: AX }),
    txt(400, 0, ')', 120, { color: AX })
  ]
});

// ---------- axes ----------
function tickFmt(v) {
  const r = Math.round(v * 1000) / 1000;
  return tickValues.indexOf(r) >= 0 ? String(r) : '';
}
const lineSt = { color: AX, width: 3 };
function mainAxis(pos, margin) {
  return {
    type: 'value', position: pos, min: axisMin, max: axisMax, splitNumber: 6,
    axisLine: { show: true, onZero: false, lineStyle: lineSt },
    axisTick: { show: true, inside: true, length: 22, lineStyle: lineSt },
    axisLabel: {
      show: true, margin: margin, fontSize: 120, color: AX, fontFamily: 'Liberation Sans',
      showMinLabel: false, showMaxLabel: false, formatter: tickFmt
    },
    splitLine: { show: true, lineStyle: { color: '#dfdfdf', width: 3 } }
  };
}
function boxAxis(pos) {
  return {
    type: 'value', position: pos, min: axisMin, max: axisMax, splitNumber: 6,
    axisLine: { show: true, onZero: false, lineStyle: lineSt },
    axisTick: { show: true, inside: true, length: 22, lineStyle: lineSt },
    axisLabel: { show: false },
    splitLine: { show: false }
  };
}

const option = {
  animation: false,
  backgroundColor: '#ffffff',
  grid: { left: 344, right: 15, top: 15, bottom: 331, containLabel: false },
  xAxis: [mainAxis('bottom', 58), boxAxis('top')],
  yAxis: [mainAxis('left', 46), boxAxis('right')],
  series: [
    {
      name: 'synthetic data', type: 'scatter',
      data: syntheticOuter.concat(syntheticCore, syntheticDense),
      symbol: 'circle', symbolSize: 25, large: false, largeThreshold: 100000,
      itemStyle: { color: '#b3b3b3', opacity: 1 },
      z: 2, silent: true
    }
  ].concat(errSeries).concat([
    {
      name: 'y = x', type: 'line', data: [[axisMin, axisMin], [axisMax, axisMax]],
      symbol: 'none', lineStyle: { color: '#000000', width: 10 }, z: 10, silent: true
    }
  ]),
  graphic: { elements: graphics }
};

const chart = echarts.init(document.getElementById('chart'));
chart.setOption(option);
</script>
</body>
</html>
